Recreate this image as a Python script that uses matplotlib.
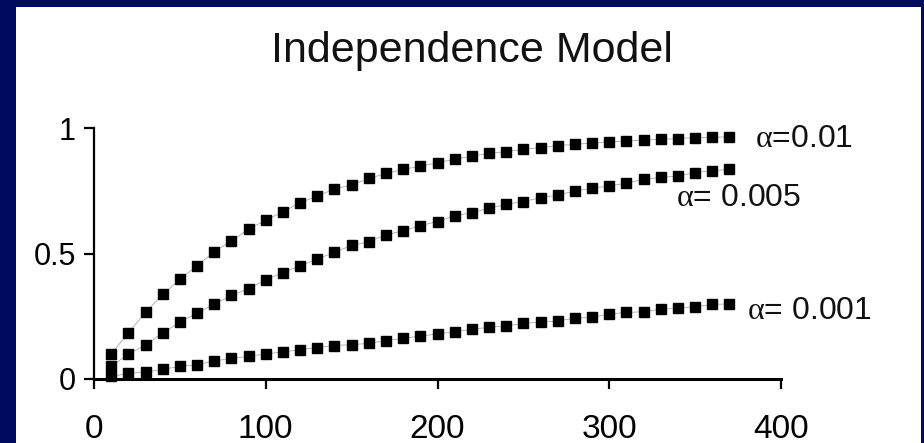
import matplotlib
matplotlib.use("Agg")
import matplotlib.pyplot as plt
from matplotlib.patches import Rectangle

plt.rcParams['font.family'] = ['Liberation Sans', 'DejaVu Sans']
# serif alpha in the curve labels
plt.rcParams['mathtext.fontset'] = 'custom'
plt.rcParams['mathtext.rm'] = 'Liberation Serif'
plt.rcParams['mathtext.it'] = 'Liberation Serif'

# sample sizes
n_vals = [10, 20, 30, 40, 50, 60, 70, 80, 90, 100, 110, 120, 130, 140, 150, 160, 170, 180, 190,
          200, 210, 220, 230, 240, 250, 260, 270, 280, 290, 300, 310, 320, 330, 340, 350, 360, 370]

# power curves for each alpha
p_alpha_01 = [0.10, 0.184, 0.265, 0.337, 0.397, 0.451, 0.507, 0.550, 0.596, 0.633, 0.666, 0.702,
              0.729, 0.757, 0.773, 0.799, 0.819, 0.835, 0.848, 0.862, 0.875, 0.888, 0.899, 0.906,
              0.915, 0.922, 0.930, 0.935, 0.940, 0.945, 0.948, 0.952, 0.955, 0.958, 0.962, 0.963, 0.965]
p_alpha_005 = [0.05, 0.10, 0.135, 0.184, 0.226, 0.263, 0.298, 0.333, 0.360, 0.395, 0.424, 0.451,
               0.478, 0.505, 0.532, 0.547, 0.574, 0.591, 0.611, 0.627, 0.650, 0.663, 0.680, 0.696,
               0.707, 0.722, 0.733, 0.749, 0.760, 0.769, 0.780, 0.796, 0.803, 0.809, 0.822, 0.830, 0.835]
p_alpha_001 = [0.01, 0.023, 0.027, 0.039, 0.05, 0.057, 0.072, 0.082, 0.090, 0.100, 0.108, 0.117,
               0.125, 0.133, 0.137, 0.142, 0.153, 0.162, 0.171, 0.179, 0.189, 0.198, 0.206, 0.211,
               0.222, 0.226, 0.232, 0.242, 0.246, 0.259, 0.265, 0.268, 0.278, 0.282, 0.288, 0.297, 0.299]

series = [p_alpha_01, p_alpha_005, p_alpha_001]
curve_labels = [r'$\mathrm{\alpha}$=0.01', r'$\mathrm{\alpha}$= 0.005', r'$\mathrm{\alpha}$= 0.001']
label_pos = [(385, 0.955), (339, 0.72), (380, 0.27)]

fig = plt.figure(figsize=(9.24, 4.43), dpi=100)
fig.patch.set_facecolor('#000b5e')
# white slide panel inside the navy frame
fig.patches.append(Rectangle((16/924, 0), 905/924, 1 - 7/443, transform=fig.transFigure,
                             facecolor='white', edgecolor='none', zorder=-5))

ax = fig.add_axes([94/924, 64/443, 687/924, 251/443])
ax.set_zorder(2)
ax.set_facecolor('none')

for vals in series:
    ax.plot(n_vals, vals, color='#aaaaaa', linewidth=0.6, marker='s', markersize=6.5,
            markerfacecolor='black', markeredgecolor='black', clip_on=False, zorder=3)

for lab, (tx, ty) in zip(curve_labels, label_pos):
    ax.text(tx, ty, lab, fontsize=23, color='#111111', ha='left', va='center', clip_on=False)

ax.set_xlim(0, 400)
ax.set_ylim(0, 1)
ax.set_xticks([0, 100, 200, 300, 400])
ax.set_yticks([0, 0.5, 1])
ax.set_yticklabels(['0', '0.5', '1'])

for side in ['top', 'right']:
    ax.spines[side].set_visible(False)
ax.spines['left'].set_linewidth(1.6)
ax.spines['bottom'].set_linewidth(2.2)
ax.tick_params(axis='x', direction='out', length=7, width=1.6, pad=18, labelsize=24)
ax.tick_params(axis='y', direction='out', length=7, width=1.6, pad=6, labelsize=22)

fig.text(472/924, 1 - 51/443, 'Independence Model', fontsize=31, ha='center', va='center',
         color='#111111', zorder=3)

plt.savefig('out.png', dpi=100, facecolor=fig.get_facecolor())
